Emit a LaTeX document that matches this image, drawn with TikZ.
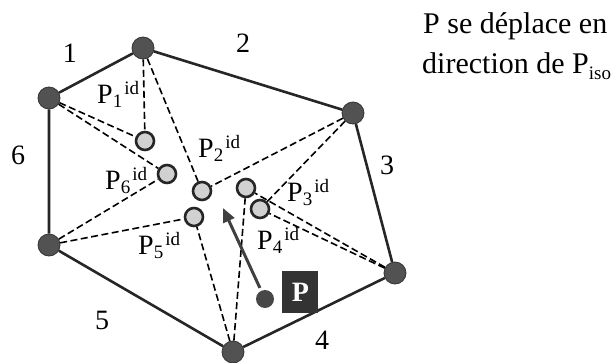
\documentclass[tikz,border=0pt]{standalone}
\usepackage{fontspec}
\setmainfont{Liberation Serif}
\usetikzlibrary{arrows.meta,positioning}

\newcommand{\idlab}[1]{P\raisebox{-4pt}{\fontsize{19}{19}\selectfont #1}\hspace{2pt}\raisebox{9pt}{\fontsize{19}{19}\selectfont id}}

\begin{document}
\begin{tikzpicture}[x=1pt, y=-1pt,
  vertex/.style={circle, fill=black!68, draw=black!80, line width=0.8pt, minimum size=22pt, inner sep=0},
  ideal/.style={circle, fill=black!18, draw=black!85, line width=2.6pt, minimum size=18pt, inner sep=0},
  edge/.style={line width=2.6pt, black!85},
  aux/.style={line width=1.6pt, dash pattern=on 7pt off 3.5pt},
  lab/.style={font=\fontsize{28}{28}\selectfont, inner sep=0},
  txt/.style={font=\fontsize{30}{30}\selectfont, inner sep=0, anchor=base west}]
\useasboundingbox (0,0) rectangle (614,362);

% vertices of the cell
\node[vertex] (a) at (49,98) {};
\node[vertex] (b) at (143,48) {};
\node[vertex] (c) at (353,113) {};
\node[vertex] (d) at (395,273) {};
\node[vertex] (e) at (233,352) {};
\node[vertex] (f) at (49,245) {};

% ideal points
\node[ideal] (p1) at (145,141) {};
\node[ideal] (p6) at (167,174) {};
\node[ideal] (p2) at (202,191) {};
\node[ideal] (p5) at (194,217) {};
\node[ideal] (p4) at (246,188) {};
\node[ideal] (p3) at (260,209) {};

\draw[edge] (a) -- (b) -- (c) -- (d) -- (e) -- (f) -- (a);

\draw[aux] (a) -- (p1) (b) -- (p1);
\draw[aux] (a) -- (p6) (f) -- (p6);
\draw[aux] (b) -- (p2) (c) -- (p2);
\draw[aux] (f) -- (p5) (e) -- (p5);
\draw[aux] (c) -- (p3) (d) -- (p3);
\draw[aux] (d) -- (p4) (e) -- (p4);

% edge numbers
\node[lab] (n1) at (70,53) {1};
\node[lab] (n2) at (243,43) {2};
\node[lab] (n3) at (387,165) {3};
\node[lab] (n4) at (322,340) {4};
\node[lab] (n5) at (102,320) {5};
\node[lab] (n6) at (18,155) {6};

% labels of the ideal points
\node[lab, anchor=base west] (l1) at (97,103) {\idlab{1}};
\node[lab, anchor=base west] (l2) at (198,157) {\idlab{2}};
\node[lab, anchor=base west] (l3) at (287,201) {\idlab{3}};
\node[lab, anchor=base west] (l4) at (257,249) {\idlab{4}};
\node[lab, anchor=base west] (l5) at (138,254) {\idlab{5}};
\node[lab, anchor=base west] (l6) at (105,189) {\idlab{6}};

% the moving point
\node[circle, fill=black!72, minimum size=18pt, inner sep=0] (pt) at (265,299) {};
\node[right=8pt of pt, yshift=7pt, fill=black!80, minimum width=36pt, minimum height=42pt,
  text=white, font=\fontsize{28}{28}\selectfont\bfseries] (pbox) {P};
\coordinate (tip) at (223,208);
\draw[line width=3pt, black!75, -{Triangle[length=14pt, width=12pt]}, shorten <=3pt] (pt) -- (tip);

\node[txt] (t1) at (423,33) {P se déplace en};
\node[txt] (t2) at (422,73) {direction de P\raisebox{-6pt}{\fontsize{19}{19}\selectfont iso}};
\end{tikzpicture}
\end{document}
